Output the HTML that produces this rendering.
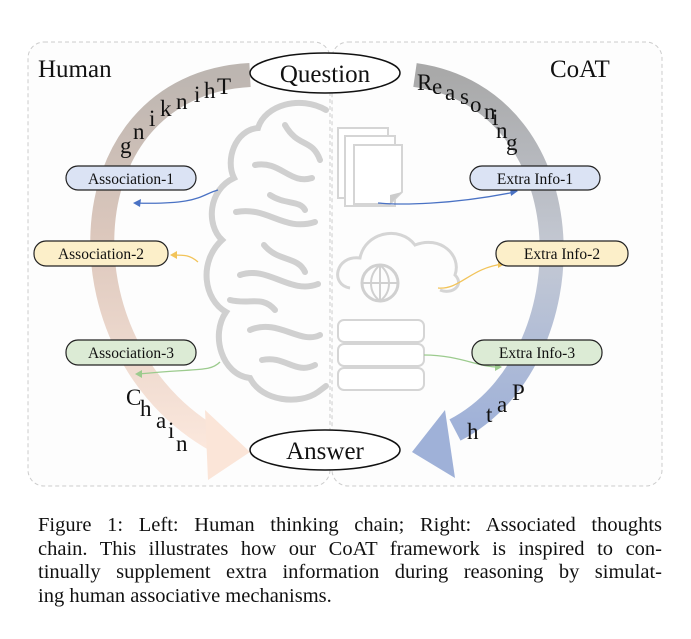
<!DOCTYPE html>
<html><head><meta charset="utf-8"><style>
body{margin:0;background:#fff;width:691px;height:639px;overflow:hidden}
.cap{position:absolute;left:38px;top:514px;width:624px;font-family:"Liberation Serif",serif;font-size:20.5px;line-height:23.5px;color:#111}
.cap div{text-align:justify;text-align-last:justify;white-space:nowrap}
.cap div.l{text-align-last:left}
</style></head><body>
<svg width="691" height="639" style="position:absolute;left:0;top:0" font-family="Liberation Serif, serif">
<defs>
<linearGradient id="lg" x1="0" y1="0" x2="0" y2="1"><stop offset="0" stop-color="#bdb6b1"/><stop offset="0.45" stop-color="#ddc8bd"/><stop offset="1" stop-color="#fbe7dc"/></linearGradient>
<linearGradient id="rg" x1="0" y1="0" x2="0" y2="1"><stop offset="0" stop-color="#a9a9a9"/><stop offset="0.5" stop-color="#c4c9d4"/><stop offset="1" stop-color="#9fb1d8"/></linearGradient>
</defs>
<rect x="28" y="42" width="302" height="444" rx="16" fill="#fdfdfd" stroke="#ccc" stroke-dasharray="4 3"/>
<rect x="332" y="42" width="330" height="444" rx="16" fill="#fdfdfd" stroke="#ccc" stroke-dasharray="4 3"/>
<path d="M250 75 C 60 85, 55 360, 225 445" fill="none" stroke="url(#lg)" stroke-width="24"/>
<polygon points="205,410 250,452 208,480" fill="#fbe5d8"/>
<path d="M415 75 C 590 100, 590 360, 455 430" fill="none" stroke="url(#rg)" stroke-width="24"/>
<polygon points="445,410 412,452 455,478" fill="#9fb1d8"/>
<g fill="none" stroke="#d0d0d0" stroke-width="6" stroke-linecap="round">
<path d="M326 110 C300 95 265 105 258 128 C235 130 225 160 234 178 C208 190 206 225 222 240 C198 262 204 300 226 312 C210 335 222 375 250 378 C262 402 300 405 318 392 L326 386"/>
<path d="M255 165 C280 160 290 185 312 178 M236 212 C268 206 283 232 315 222 M240 275 C268 265 290 295 318 284 M250 330 C278 318 300 345 320 335 M285 125 C298 148 312 138 320 160 M264 245 C278 262 298 256 305 272 M230 300 C250 305 262 295 275 310 M262 360 C285 355 295 375 315 365 M270 195 C285 205 300 200 305 210"/>
</g>
<g fill="#fff" stroke="#d5d5d5" stroke-width="2">
<rect x="338" y="128" width="50" height="70"/><rect x="345" y="136" width="50" height="70"/><path d="M354 145 H402 V192 L390 204 H354 Z"/>
</g>
<path d="M390 204 L402 192 L390 195 Z" fill="#ccc"/>
<path d="M350 288 C330 285 335 255 360 258 C365 232 400 225 415 245 C440 235 462 255 455 275 C465 285 452 295 440 290" fill="none" stroke="#d5d5d5" stroke-width="3"/>
<circle cx="380" cy="283" r="18" fill="none" stroke="#d0d0d0" stroke-width="3"/>
<path d="M362 283 H398 M380 265 V301 M380 265 C368 275 368 292 380 301 M380 265 C392 275 392 292 380 301" fill="none" stroke="#d0d0d0" stroke-width="2"/>
<g fill="#fff" stroke="#d5d5d5" stroke-width="2">
<rect x="338" y="320" width="86" height="22" rx="6"/><rect x="338" y="344" width="86" height="22" rx="6"/><rect x="338" y="368" width="86" height="22" rx="6"/>
</g>
<g fill="none" stroke-width="1.3">
<path d="M218 190 C200 195 200 205 135 203" stroke="#4a72c4"/><polygon points="133,203 141,199 140,207" fill="#4a72c4"/>
<path d="M198 262 C190 255 185 255 172 255" stroke="#f2c45a"/><polygon points="170,255 177,251 177,259" fill="#f2c45a"/>
<path d="M220 362 C210 372 200 368 138 374" stroke="#9ccb8e"/><polygon points="135,374 142,370 142,378" fill="#9ccb8e"/>
<path d="M378 203 C400 205 450 205 515 192" stroke="#4a72c4"/><polygon points="518,191 510,188 511,196" fill="#4a72c4"/>
<path d="M438 288 C460 290 470 268 503 264" stroke="#f2c45a"/><polygon points="505,264 498,260 498,268" fill="#f2c45a"/>
<path d="M424 355 C460 355 480 368 500 367" stroke="#9ccb8e"/><polygon points="502,367 495,363 495,371" fill="#9ccb8e"/>
</g>
<g stroke="#222" stroke-width="1.2">
<rect x="66" y="166" width="130" height="24" rx="12" fill="#dbe3f4"/>
<rect x="34" y="241" width="134" height="25" rx="12" fill="#fcefc9"/>
<rect x="66" y="340" width="130" height="25" rx="12" fill="#dcebd5"/>
<rect x="470" y="166" width="130" height="24" rx="12" fill="#dbe3f4"/>
<rect x="496" y="241" width="132" height="25" rx="12" fill="#fcefc9"/>
<rect x="472" y="340" width="130" height="25" rx="12" fill="#dcebd5"/>
</g>
<g font-size="15.5" fill="#111" text-anchor="middle">
<text x="131" y="184">Association-1</text>
<text x="101" y="259">Association-2</text>
<text x="131" y="358">Association-3</text>
<text x="535" y="184">Extra Info-1</text>
<text x="562" y="259">Extra Info-2</text>
<text x="537" y="358">Extra Info-3</text>
</g>
<ellipse cx="325" cy="73" rx="75" ry="20" fill="#fff" stroke="#111" stroke-width="1.5"/>
<ellipse cx="325" cy="450" rx="75" ry="20" fill="#fff" stroke="#111" stroke-width="1.5"/>
<g font-size="25" fill="#111">
<text x="325" y="82" text-anchor="middle">Question</text>
<text x="325" y="459" text-anchor="middle">Answer</text>
<text x="38" y="77">Human</text>
<text x="550" y="77">CoAT</text>
</g>
<g font-size="23" fill="#111">
<text x="217" y="94">T</text><text x="204" y="98">h</text><text x="194" y="102">i</text><text x="176" y="109">n</text><text x="160" y="116">k</text><text x="149" y="126">i</text><text x="133" y="139">n</text><text x="120" y="153">g</text>
<text x="126" y="405">C</text><text x="140" y="416">h</text><text x="156" y="428">a</text><text x="168" y="438">i</text><text x="176" y="451">n</text>
<text x="417" y="90">R</text><text x="432" y="94">e</text><text x="445" y="100">a</text><text x="460" y="104">s</text><text x="470" y="112">o</text><text x="484" y="119">n</text><text x="492" y="125">i</text><text x="496" y="138">n</text><text x="506" y="150">g</text>
<text x="512" y="400">P</text><text x="497" y="412">a</text><text x="486" y="422">t</text><text x="467" y="439">h</text>
</g>
</svg>
<div class="cap">
<div>Figure 1: Left: Human thinking chain; Right: Associated thoughts</div>
<div>chain. This illustrates how our CoAT framework is inspired to con-</div>
<div>tinually supplement extra information during reasoning by simulat-</div>
<div class="l">ing human associative mechanisms.</div>
</div>
</body></html>
